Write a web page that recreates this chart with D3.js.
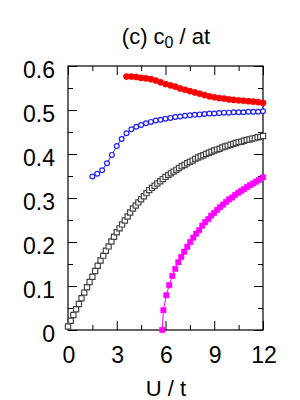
<!DOCTYPE html>
<html>
<head>
<meta charset="utf-8">
<script src="https://cdn.jsdelivr.net/npm/d3@7"></script>
<style>
    body { margin: 0; background: #fff; }
    svg { display: block; font-family: "Liberation Sans", Arial, sans-serif; }
</style>
</head>
<body>
<div id="chart"></div>
<script>
// red filled circles
var redU = [3.6, 3.9, 4.2, 4.5, 4.8, 5.1, 5.4, 5.7, 6.0, 6.3, 6.6, 6.9, 7.2, 7.5, 7.8, 8.1, 8.4, 8.7, 9.0, 9.3,
    9.6, 9.9, 10.2, 10.5, 10.8, 11.1, 11.4, 11.7, 12.0];
var redC = [0.576, 0.576, 0.575, 0.573, 0.572, 0.570, 0.567, 0.563, 0.559, 0.556, 0.553, 0.549, 0.546, 0.543,
    0.540, 0.537, 0.534, 0.531, 0.529, 0.527, 0.526, 0.524, 0.523, 0.522, 0.521, 0.520, 0.519, 0.518, 0.516];

// blue open circles
var blueU = [1.5, 1.8, 2.1, 2.4, 2.7, 3.0, 3.3, 3.6, 3.9, 4.2, 4.5, 4.8, 5.1, 5.4, 5.7, 6.0, 6.3, 6.6, 6.9, 7.2,
    7.5, 7.8, 8.1, 8.4, 8.7, 9.0, 9.3, 9.6, 9.9, 10.2, 10.5, 10.8, 11.1, 11.4, 11.7, 12.0];
var blueC = [0.349, 0.355, 0.363, 0.379, 0.398, 0.418, 0.434, 0.447, 0.456, 0.462, 0.466, 0.470, 0.473, 0.476,
    0.478, 0.480, 0.482, 0.484, 0.485, 0.487, 0.488, 0.489, 0.490, 0.491, 0.492, 0.492, 0.493, 0.494, 0.494,
    0.495, 0.495, 0.495, 0.496, 0.496, 0.496, 0.497];

// gray open squares
var grayU = [0, 0.17, 0.33, 0.5, 0.67, 0.83, 1, 1.17, 1.33, 1.5, 1.67, 1.83, 2, 2.17, 2.33, 2.5, 2.67, 2.83,
    3, 3.17, 3.33, 3.5, 3.67, 3.83, 4, 4.17, 4.33, 4.5, 4.67, 4.83, 5, 5.17, 5.33, 5.5, 5.67, 5.83,
    6, 6.17, 6.33, 6.5, 6.67, 6.83, 7, 7.17, 7.33, 7.5, 7.67, 7.83, 8, 8.17, 8.33, 8.5, 8.67, 8.83,
    9, 9.17, 9.33, 9.5, 9.67, 9.83, 10, 10.17, 10.33, 10.5, 10.67, 10.83, 11, 11.17, 11.33, 11.5, 11.67, 11.83, 12];
var grayC = [0.008, 0.021, 0.034, 0.047, 0.059, 0.072, 0.085, 0.097, 0.109, 0.121, 0.134, 0.146,
    0.158, 0.169, 0.180, 0.190, 0.201, 0.212, 0.222, 0.231, 0.240, 0.249, 0.258, 0.267,
    0.276, 0.283, 0.290, 0.297, 0.304, 0.311, 0.318, 0.323, 0.328, 0.333, 0.338, 0.343,
    0.348, 0.352, 0.356, 0.360, 0.364, 0.368, 0.372, 0.375, 0.379, 0.382, 0.385, 0.389,
    0.392, 0.395, 0.397, 0.400, 0.403, 0.405, 0.408, 0.410, 0.412, 0.415, 0.417, 0.419,
    0.421, 0.423, 0.425, 0.427, 0.428, 0.430, 0.432, 0.433, 0.435, 0.436, 0.438, 0.439, 0.441];

// magenta filled squares
var magU = [5.80, 5.87, 6.05, 6.23, 6.42, 6.60, 6.79, 6.97, 7.15, 7.34, 7.52, 7.71, 7.89, 8.07, 8.26, 8.44,
    8.63, 8.81, 8.99, 9.18, 9.36, 9.55, 9.73, 9.91, 10.10, 10.28, 10.47, 10.65, 10.83, 11.02, 11.20,
    11.39, 11.57, 11.75, 12.0];
var magC = [0.0, 0.045, 0.079, 0.102, 0.123, 0.139, 0.154, 0.166, 0.178, 0.189, 0.200, 0.210, 0.219, 0.227,
    0.237, 0.245, 0.252, 0.260, 0.266, 0.273, 0.279, 0.285, 0.291, 0.297, 0.301, 0.307, 0.312, 0.316,
    0.320, 0.325, 0.329, 0.333, 0.337, 0.341, 0.347];

var xTicks = [0, 3, 6, 9, 12];
var yTicks = [0, 0.1, 0.2, 0.3, 0.4, 0.5, 0.6];

var W = 300, H = 400;
var margin = { left: 68, right: 37, top: 66, bottom: 70 };

var svg = d3.select("#chart").append("svg")
    .attr("width", W)
    .attr("height", H);

var x = d3.scaleLinear().domain([0, 12]).range([margin.left, W - margin.right]);
var y = d3.scaleLinear().domain([0, 0.6]).range([H - margin.bottom, margin.top]);

// minor ticks sit halfway between the majors
var xMinor = d3.range(1.5, 12, 3);
var yMinor = d3.range(0.05, 0.6, 0.1);

var g = svg.append("g");

function drawAxis(axis, tr, size, vals) {
    g.append("g")
        .attr("transform", tr)
        .call(axis.tickValues(vals).tickSize(size).tickFormat(""))
        .call(a => a.select(".domain").remove())
        .selectAll("line").attr("stroke", "#000").attr("stroke-width", 1);
}

var x0 = margin.left, x1 = W - margin.right, y0 = H - margin.bottom, y1 = margin.top;
drawAxis(d3.axisTop(x), `translate(0,${y0})`, 9, xTicks);
drawAxis(d3.axisTop(x), `translate(0,${y0})`, 5, xMinor);
drawAxis(d3.axisBottom(x), `translate(0,${y1})`, 9, xTicks);
drawAxis(d3.axisBottom(x), `translate(0,${y1})`, 5, xMinor);
drawAxis(d3.axisRight(y), `translate(${x0},0)`, 9, yTicks);
drawAxis(d3.axisRight(y), `translate(${x0},0)`, 5, yMinor);
drawAxis(d3.axisLeft(y), `translate(${x1},0)`, 9, yTicks);
drawAxis(d3.axisLeft(y), `translate(${x1},0)`, 5, yMinor);

g.append("rect")
    .attr("x", x0).attr("y", y1)
    .attr("width", x1 - x0).attr("height", y0 - y1)
    .attr("fill", "none").attr("stroke", "#000").attr("stroke-width", 1.2);

// tick labels
g.selectAll(".xl").data(xTicks).enter().append("text")
    .attr("x", d => x(d) + 1)
    .attr("y", y0 + 33)
    .attr("text-anchor", "middle")
    .attr("font-size", 23)
    .text(d => d);

g.selectAll(".yl").data(yTicks).enter().append("text")
    .attr("x", x0 - 13)
    .attr("y", d => y(d) + 11.5)
    .attr("text-anchor", "end")
    .attr("font-size", 23)
    .text(d => d === 0 ? "0" : d.toFixed(1));

svg.append("text")
    .attr("x", 166).attr("y", 396)
    .attr("text-anchor", "middle")
    .attr("font-size", 22)
    .text("U / t");

var title = svg.append("text")
    .attr("x", 166).attr("y", 44)
    .attr("text-anchor", "middle")
    .attr("font-size", 22);
title.append("tspan").text("(c) c");
title.append("tspan").attr("font-size", 16).attr("dy", 4).text("0");
title.append("tspan").attr("dy", -4).text(" / at");

var line = d3.line().x(d => x(d[0])).y(d => y(d[1]));

function series(us, cs, color, shape, filled, r) {
    var pts = us.map((u, i) => [u, cs[i]]);
    var s = svg.append("g");
    s.append("path")
        .attr("d", line(pts))
        .attr("fill", "none")
        .attr("stroke", color)
        .attr("stroke-width", 1);
    var sym = d3.symbol().type(shape === "square" ? d3.symbolSquare : d3.symbolCircle)
        .size(shape === "square" ? (2 * r) * (2 * r) : Math.PI * r * r);
    s.selectAll("path.m").data(pts).enter().append("path")
        .attr("class", "m")
        .attr("transform", d => `translate(${x(d[0])},${y(d[1])})`)
        .attr("d", sym)
        .attr("fill", filled ? color : "#fff")
        .attr("stroke", color)
        .attr("stroke-width", filled ? 0.5 : 1.2);
}

series(grayU, grayC, "#444444", "square", false, 2.6);
series(magU, magC, "#ff00ff", "square", true, 2.7);
series(blueU, blueC, "#2020ff", "circle", false, 2.4);
series(redU, redC, "#ff0000", "circle", true, 3.1);
</script>
</body>
</html>
